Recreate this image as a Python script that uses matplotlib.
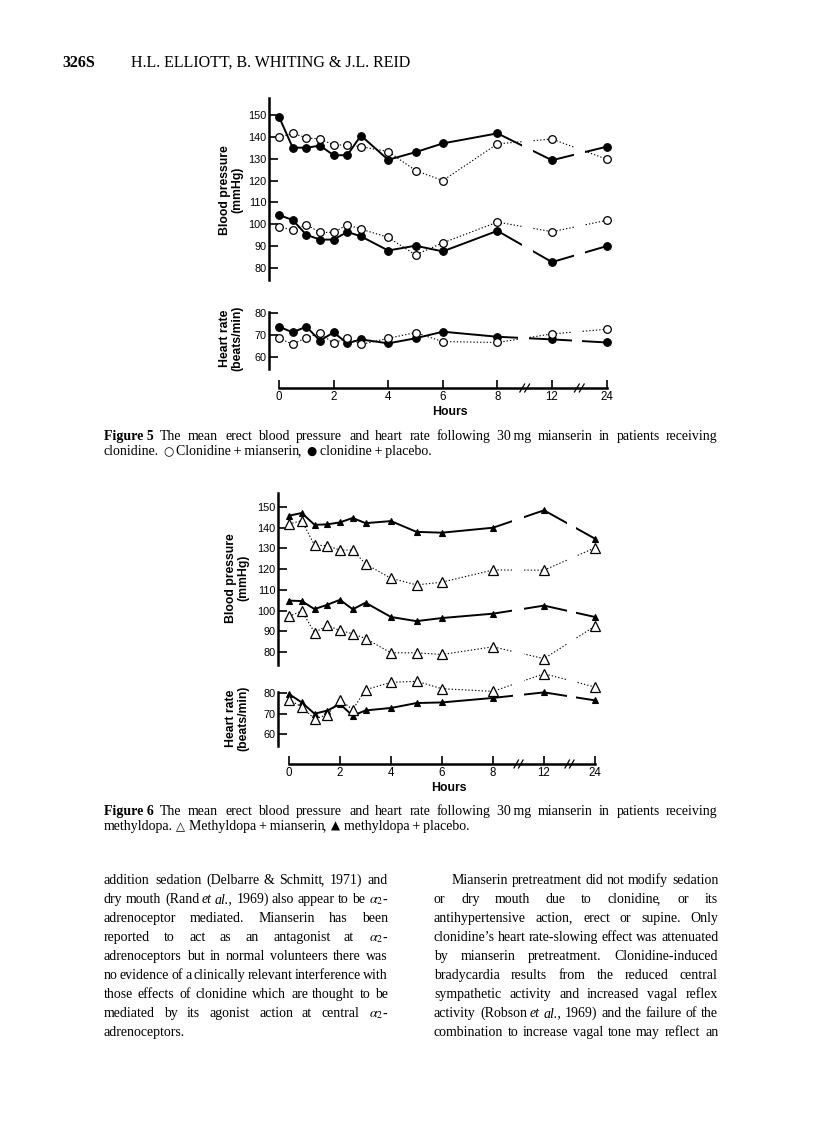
import matplotlib
matplotlib.use('Agg')
import matplotlib.pyplot as plt

plt.rcParams['mathtext.fontset'] = 'stix'
plt.rcParams['font.family'] = ['Liberation Sans', 'DejaVu Sans']

W, H = 816, 1124
fig = plt.figure(figsize=(W / 100, H / 100), dpi=100)
renderer = fig.canvas.get_renderer()

hours = [0, 0.5, 1, 1.5, 2, 2.5, 3, 4, 5, 6, 8, 12, 24]
hour_ticks = [0, 2, 4, 6, 8, 12, 24]

# Figure 5: clonidine
f5_sys_placebo = [149.2, 135.1, 135.0, 136.0, 131.6, 131.6, 140.6, 129.5, 133.0, 137.0, 141.6, 129.3, 135.5]
f5_sys_mian = [139.8, 141.6, 139.6, 139.0, 136.3, 136.3, 135.5, 133.3, 124.6, 120.0, 136.8, 139.0, 129.8]
f5_dia_placebo = [104.2, 102.0, 95.2, 93.0, 93.0, 96.5, 94.5, 88.0, 90.2, 87.6, 97.0, 82.7, 90.0]
f5_dia_mian = [98.6, 97.5, 99.8, 96.3, 96.3, 99.8, 97.8, 94.0, 86.0, 91.5, 101.0, 96.6, 101.8]
f5_hr_placebo = [73.8, 71.2, 73.8, 67.4, 71.2, 66.2, 68.0, 66.2, 68.5, 71.5, 69.2, 68.0, 66.6]
f5_hr_mian = [68.5, 65.8, 68.8, 70.8, 66.2, 68.8, 65.7, 68.5, 71.1, 67.0, 66.6, 70.5, 72.6]

# Figure 6: methyldopa
f6_sys_placebo = [145.8, 147.1, 141.4, 141.6, 142.6, 144.7, 142.2, 143.2, 138.0, 137.6, 140.0, 148.4, 134.7]
f6_sys_mian = [141.8, 143.4, 131.6, 131.3, 129.2, 129.2, 122.5, 115.6, 112.4, 113.7, 119.6, 119.5, 130.3]
f6_dia_placebo = [104.8, 104.6, 100.7, 102.8, 105.2, 100.6, 103.8, 96.9, 94.9, 96.4, 98.5, 102.4, 96.9]
f6_dia_mian = [97.2, 99.8, 89.4, 92.8, 90.4, 88.8, 86.5, 79.6, 79.6, 78.8, 82.5, 76.8, 92.5]
f6_hr_placebo = [79.5, 75.4, 69.9, 71.4, 74.6, 68.9, 71.5, 72.7, 75.1, 75.4, 77.6, 80.3, 76.4]
f6_hr_mian = [76.7, 73.2, 67.3, 69.4, 76.7, 71.9, 81.6, 85.2, 85.7, 82.1, 80.8, 89.4, 82.9]


def hpos(h):
    # broken time axis: 12 h and 24 h sit one step apart after 8 h
    return h if h <= 8 else 8 + 2 * ([12, 24].index(h) + 1)


def px_axes(left, right, top, bottom, xref, yref):
    ax = fig.add_axes([left / W, 1 - bottom / H, (right - left) / W, (bottom - top) / H])
    sx = (xref[3] - xref[1]) / (xref[2] - xref[0])
    ax.set_xlim(xref[1] + (left - xref[0]) * sx, xref[1] + (right - xref[0]) * sx)
    if yref is not None:
        sy = (yref[3] - yref[1]) / (yref[2] - yref[0])
        ax.set_ylim(yref[1] + (bottom - yref[0]) * sy, yref[1] + (top - yref[0]) * sy)
    ax.patch.set_visible(False)
    return ax


def style_value_axes(ax, ticks):
    for s in ['top', 'right', 'bottom']:
        ax.spines[s].set_visible(False)
    ax.spines['left'].set_linewidth(1.8)
    ax.set_xticks([])
    ax.set_yticks(ticks)
    ax.tick_params(axis='y', direction='in', length=6.5, width=1.2, labelsize=7.8, pad=2)


def series(ax, values, is_open, marker, ms):
    x = [hpos(h) for h in hours]
    if is_open:
        ax.plot(x, values, color='k', lw=0.8, ls=(0, (1.2, 1.8)), zorder=2, clip_on=False)
        ax.plot(x, values, ls='none', marker=marker, ms=ms, mfc='white', mec='k', mew=0.9,
                zorder=4, clip_on=False)
    else:
        ax.plot(x, values, color='k', lw=1.4, zorder=2, clip_on=False)
        ax.plot(x, values, ls='none', marker=marker, ms=ms, mfc='k', mec='k', mew=0.8,
                zorder=4, clip_on=False)


def gaps(ax, spans, top=1.0):
    for a, b in spans:
        ax.axvspan(a, b, ymin=0, ymax=top, color='white', lw=0, zorder=3, clip_on=False)


def hours_axis(left, right, y_px, xref):
    ax = px_axes(left, right, y_px - 10, y_px, xref, None)
    ax.set_ylim(0, 1)
    for s in ['top', 'right', 'left']:
        ax.spines[s].set_visible(False)
    ax.spines['bottom'].set_bounds(0, 12)
    ax.spines['bottom'].set_linewidth(1.8)
    ax.set_yticks([])
    ax.set_xticks([hpos(h) for h in hour_ticks], [str(h) for h in hour_ticks])
    ax.tick_params(axis='x', direction='in', length=6, width=1.2, labelsize=8.3, pad=2)
    for bx in (9, 11):
        for d in (-0.09, 0.09):
            ax.plot([bx + d - 0.1, bx + d + 0.1], [-0.45, 0.45], color='k', lw=0.9,
                    clip_on=False, solid_capstyle='butt')
    ax.set_xlabel('Hours', fontsize=8.8, fontweight='bold', labelpad=2)


def ylabel(text, x, y):
    fig.text(x / W, 1 - y / H, text, rotation=90, ha='center', va='center',
             multialignment='center', fontsize=8.8, fontweight='bold', linespacing=1.0)


# ---------- Figure 5 ----------
x5 = (279, 0, 606.6, 12)
bp5 = px_axes(269, 630, 98, 280, x5, (115, 150, 268, 80))
style_value_axes(bp5, range(80, 151, 10))
series(bp5, f5_sys_placebo, False, 'o', 5.5)
series(bp5, f5_sys_mian, True, 'o', 5.5)
series(bp5, f5_dia_placebo, False, 'o', 5.5)
series(bp5, f5_dia_mian, True, 'o', 5.5)
gaps(bp5, [(8.9, 9.3), (10.8, 11.2)])

hr5 = px_axes(269, 630, 312, 369, x5, (313, 80, 357, 60))
style_value_axes(hr5, [60, 70, 80])
series(hr5, f5_hr_placebo, False, 'o', 5.5)
series(hr5, f5_hr_mian, True, 'o', 5.5)
gaps(hr5, [(8.75, 9.15), (10.75, 11.1)])

hours_axis(269, 630, 388, x5)
ylabel('Blood pressure\n(mmHg)', 231, 190)
ylabel('Heart rate\n(beats/min)', 231, 338)

# ---------- Figure 6 ----------
x6 = (289, 0, 595, 12)
bp6 = px_axes(278, 620, 493, 665, x6, (507, 150, 652, 80))
style_value_axes(bp6, range(80, 151, 10))
series(bp6, f6_sys_placebo, False, '^', 4.2)
series(bp6, f6_sys_mian, True, '^', 6.5)
series(bp6, f6_dia_placebo, False, '^', 4.2)
series(bp6, f6_dia_mian, True, '^', 6.5)
gaps(bp6, [(8.75, 9.2), (10.9, 11.25)])

hr6 = px_axes(278, 620, 692, 746, x6, (693, 80, 734, 60))
style_value_axes(hr6, [60, 70, 80])
series(hr6, f6_hr_placebo, False, '^', 4.2)
series(hr6, f6_hr_mian, True, '^', 6.5)
gaps(hr6, [(8.8, 9.2), (10.9, 11.25)], top=1.55)

hours_axis(278, 620, 764, x6)
ylabel('Blood pressure\n(mmHg)', 237, 578)
ylabel('Heart rate\n(beats/min)', 237, 718)

# ---------- page text ----------
SERIF = 'Liberation Serif'
NB = '\u00a0'
TH = '\u2009'


def word_parts(w, size):
    kw = {'family': SERIF, 'fontsize': size}
    if w.startswith('~'):
        w, kw['style'] = w[1:], 'italic'
    elif w.startswith('*'):
        w, kw['weight'] = w[1:], 'bold'
    elif w.startswith('^'):
        w, kw['family'], kw['fontsize'] = w[1:], 'DejaVu Sans', size * 0.85
    # a trailing comma is set as its own piece, glued to the word
    if len(w) > 1 and w.endswith(',') and 'style' not in kw:
        return [(w[:-1], kw), (',', kw)]
    return [(w, kw)]


def text_line(line, x0, x1, y, size, justify):
    # one justified (or ragged) line of page text, word by word
    words = []
    for w in line.split(' '):
        arts = [fig.text(0, 0, s, va='baseline', ha='left', **kw) for s, kw in word_parts(w, size)]
        widths = [a.get_window_extent(renderer).width for a in arts]
        words.append((arts, widths))
    total = sum(sum(ws) for _, ws in words)
    if justify and len(words) > 1:
        gap = (x1 - x0 - total) / (len(words) - 1)
    else:
        gap = size * 100 / 72 * 0.25
    x = x0
    for arts, widths in words:
        start = round(x)
        off = 0
        for a, w in zip(arts, widths):
            a.set_position(((start + off) / W, 1 - y / H))
            off += int(w) - 1 if len(arts) > 1 else w
        x += sum(widths) + gap


fig.text(62 / W, 1 - 67 / H, '326S', fontsize=11.5, family=SERIF, weight='bold', va='baseline')
fig.text(131 / W, 1 - 67 / H, 'H.L. ELLIOTT, B. WHITING & J.L. REID', fontsize=11.5,
         family=SERIF, va='baseline')

cap5 = ['*Figure' + NB + '5 The mean erect blood pressure and heart rate following 30' + TH
        + 'mg mianserin in patients receiving',
        'clonidine. ^\u25cb Clonidine' + TH + '+' + TH + 'mianserin, ^\u25cf clonidine' + TH + '+' + TH + 'placebo.']
cap6 = ['*Figure' + NB + '6 The mean erect blood pressure and heart rate following 30' + TH
        + 'mg mianserin in patients receiving',
        'methyldopa. ^\u25b3 Methyldopa' + TH + '+' + TH + 'mianserin, ^\u25b2 methyldopa' + TH + '+' + TH + 'placebo.']
for lines, base in ((cap5, 440), (cap6, 815)):
    text_line(lines[0], 104, 718, base, 10, True)
    text_line(lines[1], 104, 718, base + 15, 10, False)

a2 = r'$\alpha_2$-'
left_col = ['addition sedation (Delbarre & Schmitt, 1971) and',
            'dry mouth (Rand ~et ~al., 1969) also appear to be ' + a2,
            'adrenoceptor mediated. Mianserin has been',
            'reported to act as an antagonist at ' + a2,
            'adrenoceptors but in normal volunteers there was',
            'no evidence of a clinically relevant interference with',
            'those effects of clonidine which are thought to be',
            'mediated by its agonist action at central ' + a2,
            'adrenoceptors.']
right_col = ['Mianserin pretreatment did not modify sedation',
             'or dry mouth due to clonidine, or its',
             'antihypertensive action, erect or supine. Only',
             'clonidine\u2019s heart rate-slowing effect was attenuated',
             'by mianserin pretreatment. Clonidine-induced',
             'bradycardia results from the reduced central',
             'sympathetic activity and increased vagal reflex',
             'activity (Robson ~et ~al., 1969) and the failure of the',
             'combination to increase vagal tone may reflect an']

for i, line in enumerate(left_col):
    text_line(line, 104, 388, 884 + 19 * i, 10, i < len(left_col) - 1)
for i, line in enumerate(right_col):
    text_line(line, 452 if i == 0 else 434, 718, 884 + 19 * i, 10, True)

fig.savefig('out.png', dpi=100)
